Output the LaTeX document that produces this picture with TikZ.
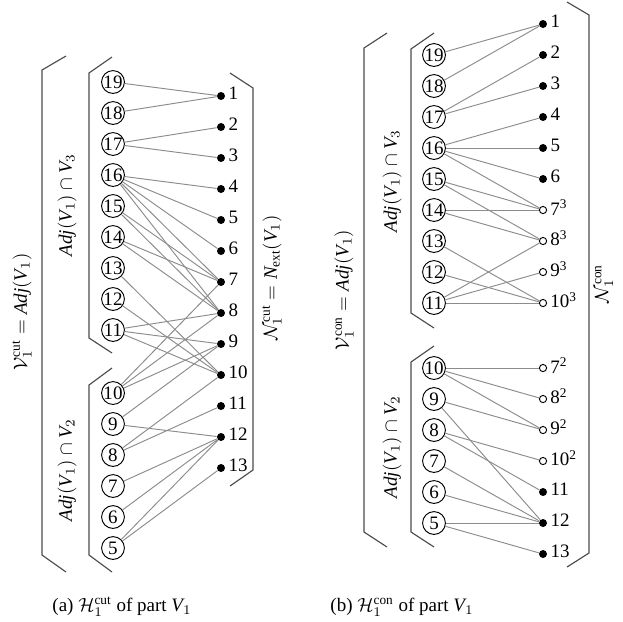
\documentclass[tikz,border=0pt]{standalone}
\usepackage{fontspec}
\setmainfont{Liberation Serif}
\usetikzlibrary{positioning}

\tikzset{
  vtx/.style={circle, draw=black, line width=0.5pt, inner sep=0pt, minimum size=12pt},
  net/.style={circle, fill=black, inner sep=0pt, minimum size=4.2pt},
  splitnet/.style={circle, draw=black, fill=white, line width=0.5pt, inner sep=0pt, minimum size=3.8pt},
  lbl/.style={label distance=0pt, anchor=west, inner sep=1.5pt, yshift=1.5pt},
  pin/.style={black!45, line width=0.5pt},
  brack/.style={black!70, line width=0.6pt},
}

\begin{document}
\begin{tikzpicture}[x=0.526pt, y=-0.526pt]
\useasboundingbox (0,0) rectangle (623,621);

% (a) cut-net model
% Vertices of Adj(V1), upper group in V3, lower group in V2
\foreach \v [count=\i from 0] in {19,18,...,11}
  \node[vtx] (cutv\v) at (113,82+31*\i) {\v};
\foreach \v [count=\i from 0] in {10,9,...,5}
  \node[vtx] (cutv\v) at (113,393+31*\i) {\v};

% External nets
\foreach \n in {1,...,13}
  \node[net, label={[lbl]east:\n}] (cutn\n) at (221,65+31*\n) {};

% Pins
\foreach \a/\b in {19/1,18/1,17/2,17/3,16/4,16/5,16/6,16/7,16/8,15/7,15/8,14/7,14/8,
  13/10,12/10,11/8,11/9,11/10,10/7,10/8,10/9,9/9,9/12,8/10,8/11,7/12,6/12,5/12,5/13}
  \draw[pin] (cutv\a) -- (cutn\b);

% Brackets
\draw[brack] (66,56) -- (42,70) -- (42,555) -- (66,572);
\draw[brack] (112,57) -- (89,73) -- (89,338) -- (112,353);
\draw[brack] (112,368) -- (89,385) -- (89,555) -- (112,572);
\draw[brack] (230,73) -- (253,88) -- (253,470) -- (230,486);

\node[rotate=90] (cutall) at (22,312) {$\mathcal{V}_1^{\mathrm{cut}} = \mathit{Adj}(\mathit{V}_1)$};
\node[rotate=90] (cutthree) at (67,205) {$\mathit{Adj}(\mathit{V}_1) \cap \mathit{V}_3$};
\node[rotate=90] (cuttwo) at (67,470) {$\mathit{Adj}(\mathit{V}_1) \cap \mathit{V}_2$};
\node[rotate=90] (cutext) at (272,278) {$\mathcal{N}_1^{\mathrm{cut}} = \mathit{N}_{\mathrm{ext}}(\mathit{V}_1)$};

\node (capcut) at (122,607) {(a) $\mathcal{H}_1^{\mathrm{cut}}$ of part $\mathit{V}_1$};

% (b) connectivity model
\foreach \v [count=\i from 0] in {19,18,...,11}
  \node[vtx] (conv\v) at (434,55+31*\i) {\v};
\foreach \v [count=\i from 0] in {10,9,...,5}
  \node[vtx] (conv\v) at (434,368+31*\i) {\v};

% Nets, split ones drawn open
\foreach \n in {1,...,6}
  \node[net, label={[lbl]east:\n}] (conn\n) at (543,-7+31*\n) {};
\foreach \n in {7,...,10}
  \node[splitnet, label={[lbl]east:\n\textsuperscript{3}}] (conn\n x3) at (543,-7+31*\n) {};
\foreach \n in {7,...,10}
  \node[splitnet, label={[lbl]east:\n\textsuperscript{2}}] (conn\n x2) at (543,151+31*\n) {};
\foreach \n in {11,12,13}
  \node[net, label={[lbl]east:\n}] (conn\n) at (543,151+31*\n) {};

\foreach \a/\b in {19/1,18/1,17/2,17/3,16/4,16/5,16/6,16/7x3,15/7x3,15/8x3,14/7x3,14/8x3,
  13/10x3,12/10x3,11/8x3,11/9x3,11/10x3,10/7x2,10/8x2,10/9x2,9/9x2,9/12,8/10x2,8/11,
  7/12,6/12,5/12,5/13}
  \draw[pin] (conv\a) -- (conn\b);

\draw[brack] (387,33) -- (364,48) -- (364,532) -- (387,547);
\draw[brack] (434,33) -- (411,49) -- (411,313) -- (434,328);
\draw[brack] (434,346) -- (411,362) -- (411,532) -- (434,547);
\draw[brack] (567,2) -- (589,15) -- (589,553) -- (567,567);

\node[rotate=90] (conall) at (344,290) {$\mathcal{V}_1^{\mathrm{con}} = \mathit{Adj}(\mathit{V}_1)$};
\node[rotate=90] (conthree) at (392,181) {$\mathit{Adj}(\mathit{V}_1) \cap \mathit{V}_3$};
\node[rotate=90] (contwo) at (392,447) {$\mathit{Adj}(\mathit{V}_1) \cap \mathit{V}_2$};
\node[rotate=90] (connets) at (604,284) {$\mathcal{N}_1^{\mathrm{con}}$};

\node (capcon) at (402,607) {(b) $\mathcal{H}_1^{\mathrm{con}}$ of part $\mathit{V}_1$};

\end{tikzpicture}
\end{document}
